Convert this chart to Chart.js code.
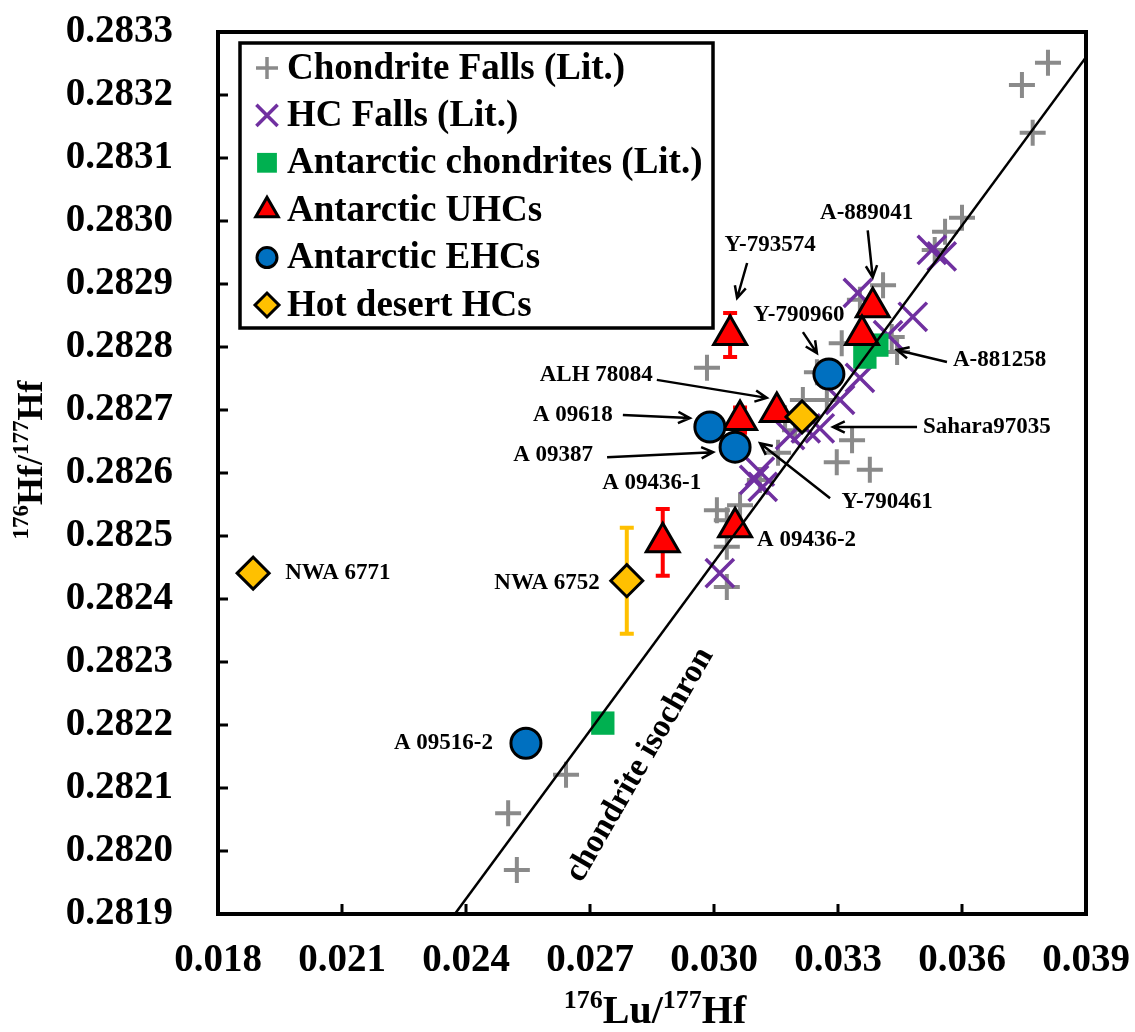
<!DOCTYPE html>
<html>
<head>
<meta charset="utf-8">
<script src="https://cdn.jsdelivr.net/npm/chart.js@4.4.0/dist/chart.umd.min.js"></script>
<style>
html, body { margin: 0; padding: 0; background: #fff; }
</style>
</head>
<body>
<canvas id="myChart" width="1135" height="1032"></canvas>
<script>
var xTicks = [0.018, 0.021, 0.024, 0.027, 0.030, 0.033, 0.036, 0.039]
var yTicks = [0.2819, 0.2820, 0.2821, 0.2822, 0.2823, 0.2824, 0.2825, 0.2826, 0.2827, 0.2828, 0.2829, 0.2830, 0.2831, 0.2832, 0.2833]

var fallsX = [0.03808, 0.03745, 0.03771, 0.03600, 0.03559, 0.03534, 0.03409, 0.03430, 0.03443, 0.03309, 0.02983, 0.03249, 0.03273, 0.03334, 0.03297, 0.03377, 0.03215, 0.03172, 0.03155, 0.03007, 0.03031, 0.03031, 0.03031, 0.02642, 0.02502, 0.02523, 0.03063, 0.03196, 0.03111, 0.03353]
var fallsY = [0.283251, 0.283216, 0.283140, 0.283005, 0.282983, 0.282954, 0.282898, 0.282816, 0.282792, 0.282806, 0.282767, 0.282760, 0.282716, 0.282652, 0.282617, 0.282605, 0.282716, 0.282687, 0.282632, 0.282541, 0.282525, 0.282483, 0.282419, 0.282121, 0.282060, 0.281970, 0.282549, 0.282668, 0.282589, 0.282875]

var hcX = [0.03527, 0.03551, 0.03348, 0.03481, 0.03421, 0.03353, 0.03305, 0.03256, 0.03222, 0.03184, 0.03111, 0.03097, 0.03118, 0.03014]
var hcY = [0.282954, 0.282944, 0.282886, 0.282848, 0.282819, 0.282751, 0.282716, 0.282671, 0.282671, 0.282660, 0.282602, 0.282589, 0.282578, 0.282441]

var antX = [0.02731, 0.03365, 0.03394]
var antY = [0.282203, 0.282784, 0.282803]

var uhcX = [0.03039, 0.03384, 0.03358, 0.03152, 0.03063, 0.03051, 0.02876]
var uhcY = [0.282819, 0.282863, 0.282819, 0.282697, 0.282684, 0.282514, 0.282490]
var uhcErr = [0.000035, 0.000012, 0.000010, 0.000008, 0.000020, 0.000014, 0.000053]

var ehcX = [0.03278, 0.02990, 0.03051, 0.02545]
var ehcY = [0.282757, 0.282673, 0.282641, 0.282171]

var desertX = [0.01885, 0.02789, 0.03213]
var desertY = [0.282441, 0.282429, 0.282689]
var desertErr = [0, 0.000084, 0]

var isoX = [0.02373, 0.039]
var isoY = [0.2819, 0.28326]

var SERIF = "'Liberation Serif', 'Times New Roman', serif"

function pts(xs, ys) {
  var out = []
  for (var i = 0; i < xs.length; i++) out.push({x: xs[i], y: ys[i]})
  return out
}

// text labels next to the samples: dataset index, point index, offsets in px
var labelDefs = [
  {text: 'Y-793574', set: 3, i: 0, dx: 40, dy: -90, align: 'center', arrow: [17, -72, 7, -37]},
  {text: 'A-889041', set: 3, i: 1, dx: -6, dy: -94, align: 'center', arrow: [-5, -77, 0, -30]},
  {text: 'Y-790960', set: 4, i: 0, dx: -30, dy: -59, align: 'center', arrow: [-26, -42, -12, -21]},
  {text: 'A-881258', set: 3, i: 2, dx: 91, dy: 25, align: 'left', arrow: [85, 27, 35, 15]},
  {text: 'ALH 78084', set: 3, i: 3, dx: -124, dy: -37, align: 'right', arrow: [-120, -32, -10, -14]},
  {text: 'A 09618', set: 4, i: 1, dx: -97, dy: -12, align: 'right', arrow: [-87, -12, -20, -9]},
  {text: 'A 09387', set: 4, i: 2, dx: -142, dy: 8, align: 'right', arrow: [-128, 10, -22, 5]},
  {text: 'A 09436-1', set: 3, i: 6, dx: -11, dy: -59, align: 'center'},
  {text: 'Y-790461', set: 4, i: 2, dx: 152, dy: 55, align: 'center', arrow: [95, 51, 25, -4]},
  {text: 'Sahara97035', set: 5, i: 2, dx: 121, dy: 10, align: 'left', arrow: [115, 10, 31, 10]},
  {text: 'A 09436-2', set: 3, i: 5, dx: 22, dy: 13, align: 'left'},
  {text: 'NWA 6771', set: 5, i: 0, dx: 32, dy: 0, align: 'left'},
  {text: 'NWA 6752', set: 5, i: 1, dx: -27, dy: 2, align: 'right'},
  {text: 'A 09516-2', set: 4, i: 3, dx: -33, dy: 0, align: 'right'}
]

function drawMark(ctx, style, x, y, r, fill, stroke, lw) {
  ctx.save()
  ctx.lineWidth = lw
  ctx.fillStyle = fill
  ctx.strokeStyle = stroke
  ctx.beginPath()
  if (style == 'cross') {
    ctx.moveTo(x - r, y); ctx.lineTo(x + r, y)
    ctx.moveTo(x, y - r); ctx.lineTo(x, y + r)
    ctx.stroke()
  } else if (style == 'crossRot') {
    var d = r * Math.SQRT1_2
    ctx.moveTo(x - d, y - d); ctx.lineTo(x + d, y + d)
    ctx.moveTo(x + d, y - d); ctx.lineTo(x - d, y + d)
    ctx.stroke()
  } else if (style == 'rect') {
    var s = r * Math.SQRT1_2
    ctx.rect(x - s, y - s, 2 * s, 2 * s)
    ctx.fill()
  } else if (style == 'triangle') {
    ctx.moveTo(x, y - r)
    ctx.lineTo(x + 0.866 * r, y + 0.5 * r)
    ctx.lineTo(x - 0.866 * r, y + 0.5 * r)
    ctx.closePath()
    ctx.fill(); ctx.stroke()
  } else if (style == 'circle') {
    ctx.arc(x, y, r, 0, Math.PI * 2)
    ctx.fill(); ctx.stroke()
  } else if (style == 'rectRot') {
    ctx.moveTo(x - r, y); ctx.lineTo(x, y - r); ctx.lineTo(x + r, y); ctx.lineTo(x, y + r)
    ctx.closePath()
    ctx.fill(); ctx.stroke()
  }
  ctx.restore()
}

function arrow(ctx, x1, y1, x2, y2) {
  var a = Math.atan2(y2 - y1, x2 - x1)
  ctx.beginPath()
  ctx.moveTo(x1, y1); ctx.lineTo(x2, y2)
  ctx.moveTo(x2 - 13 * Math.cos(a - 0.45), y2 - 13 * Math.sin(a - 0.45))
  ctx.lineTo(x2, y2)
  ctx.lineTo(x2 - 13 * Math.cos(a + 0.45), y2 - 13 * Math.sin(a + 0.45))
  ctx.stroke()
}

function supText(ctx, parts, x, y, bigSize, smallSize) {
  var big = 'bold ' + bigSize + 'px ' + SERIF, small = 'bold ' + smallSize + 'px ' + SERIF
  var w = 0
  for (var i = 0; i < parts.length; i++) {
    ctx.font = parts[i][1] ? small : big
    w += ctx.measureText(parts[i][0]).width
  }
  var cx = x - w / 2
  ctx.textAlign = 'left'
  ctx.textBaseline = 'alphabetic'
  for (var i = 0; i < parts.length; i++) {
    ctx.font = parts[i][1] ? small : big
    ctx.fillText(parts[i][0], cx, parts[i][1] ? y - bigSize * 0.38 : y)
    cx += ctx.measureText(parts[i][0]).width
  }
}

var errorBars = {
  id: 'errorBars',
  beforeDatasetsDraw: function(chart) {
    var ctx = chart.ctx
    var ys = chart.scales.y
    chart.data.datasets.forEach(function(ds, di) {
      if (!ds.errY) return
      var meta = chart.getDatasetMeta(di)
      ctx.save()
      ctx.strokeStyle = ds.errColor
      ctx.lineWidth = 4
      meta.data.forEach(function(el, i) {
        var e = ds.errY[i]
        if (!e) return
        var v = ds.data[i].y
        var t = ys.getPixelForValue(v + e), b = ys.getPixelForValue(v - e)
        ctx.beginPath()
        ctx.moveTo(el.x, t); ctx.lineTo(el.x, b)
        ctx.moveTo(el.x - 7, t); ctx.lineTo(el.x + 7, t)
        ctx.moveTo(el.x - 7, b); ctx.lineTo(el.x + 7, b)
        ctx.stroke()
      })
      ctx.restore()
    })
  }
}

var decor = {
  id: 'decor',
  afterDraw: function(chart) {
    var ctx = chart.ctx
    var a = chart.chartArea
    var xs = chart.scales.x, ys = chart.scales.y
    ctx.save()
    // frame and inward ticks
    ctx.strokeStyle = '#000'
    ctx.lineWidth = 4
    ctx.strokeRect(a.left, a.top, a.right - a.left, a.bottom - a.top)
    ctx.lineWidth = 3
    ctx.beginPath()
    xTicks.forEach(function(v) {
      var p = xs.getPixelForValue(v)
      ctx.moveTo(p, a.bottom); ctx.lineTo(p, a.bottom - 10)
    })
    yTicks.forEach(function(v) {
      var p = ys.getPixelForValue(v)
      ctx.moveTo(a.left, p); ctx.lineTo(a.left + 10, p)
    })
    ctx.stroke()

    // isochron label
    ctx.save()
    ctx.translate(xs.getPixelForValue(0.02821), ys.getPixelForValue(0.282137))
    ctx.rotate(-60 * Math.PI / 180)
    ctx.font = 'bold 33px ' + SERIF
    ctx.fillStyle = '#000'
    ctx.textAlign = 'center'
    ctx.textBaseline = 'middle'
    ctx.fillText('chondrite isochron', 0, 0)
    ctx.restore()

    // sample labels
    ctx.font = 'bold 23px ' + SERIF
    ctx.fillStyle = '#000'
    ctx.textBaseline = 'middle'
    ctx.lineWidth = 2.5
    labelDefs.forEach(function(l) {
      var el = chart.getDatasetMeta(l.set).data[l.i]
      ctx.textAlign = l.align
      ctx.fillText(l.text, el.x + l.dx, el.y + l.dy)
      if (l.arrow) arrow(ctx, el.x + l.arrow[0], el.y + l.arrow[1], el.x + l.arrow[2], el.y + l.arrow[3])
    })

    // legend
    ctx.fillStyle = '#fff'
    ctx.fillRect(240, 43, 473, 285)
    ctx.lineWidth = 3.5
    ctx.strokeStyle = '#000'
    ctx.strokeRect(240, 43, 473, 285)
    var ly = 68
    ctx.font = 'bold 37px ' + SERIF
    ctx.textAlign = 'left'
    chart.data.datasets.forEach(function(ds) {
      if (!ds.legendR) return
      drawMark(ctx, ds.pointStyle, 267, ly, ds.legendR, ds.backgroundColor, ds.borderColor, ds.pointStyle == 'cross' || ds.pointStyle == 'crossRot' ? 3.5 : 3)
      ctx.fillStyle = '#000'
      ctx.textBaseline = 'middle'
      ctx.fillText(ds.label, 287, ly + 1)
      ly += 47.4
    })

    // axis titles
    ctx.fillStyle = '#000'
    supText(ctx, [['176', true], ['Lu/', false], ['177', true], ['Hf', false]], 655, 1023, 40, 26)
    ctx.save()
    ctx.translate(42, 460)
    ctx.rotate(-Math.PI / 2)
    supText(ctx, [['176', true], ['Hf/', false], ['177', true], ['Hf', false]], 0, 0, 36, 23)
    ctx.restore()
    ctx.restore()
  }
}

new Chart("myChart", {
  type: "scatter",
  data: {
    datasets: [{
      label: "Chondrite Falls (Lit.)",
      data: pts(fallsX, fallsY),
      pointStyle: 'cross',
      pointRadius: 13,
      pointBorderWidth: 4,
      borderColor: '#8a8a8a',
      backgroundColor: '#8a8a8a',
      legendR: 11,
      order: 6
    }, {
      label: "HC Falls (Lit.)",
      data: pts(hcX, hcY),
      pointStyle: 'crossRot',
      pointRadius: 20,
      pointBorderWidth: 3.5,
      borderColor: '#7030a0',
      backgroundColor: '#7030a0',
      legendR: 15,
      order: 5
    }, {
      label: "Antarctic chondrites (Lit.)",
      data: pts(antX, antY),
      pointStyle: 'rect',
      pointRadius: 16.5,
      pointBorderWidth: 0,
      borderColor: '#00b050',
      backgroundColor: '#00b050',
      legendR: 14,
      order: 4
    }, {
      label: "Antarctic UHCs",
      data: pts(uhcX, uhcY),
      errY: uhcErr,
      errColor: '#ff0000',
      pointStyle: 'triangle',
      pointRadius: 19,
      pointBorderWidth: 3,
      borderColor: '#000',
      backgroundColor: '#ff0000',
      legendR: 13,
      order: 3
    }, {
      label: "Antarctic EHCs",
      data: pts(ehcX, ehcY),
      pointStyle: 'circle',
      pointRadius: 15,
      pointBorderWidth: 3,
      borderColor: '#000',
      backgroundColor: '#0070c0',
      legendR: 10,
      order: 2
    }, {
      label: "Hot desert HCs",
      data: pts(desertX, desertY),
      errY: desertErr,
      errColor: '#ffc000',
      pointStyle: 'rectRot',
      pointRadius: 16,
      pointBorderWidth: 3,
      borderColor: '#000',
      backgroundColor: '#ffc000',
      legendR: 12,
      order: 1
    }, {
      type: 'line',
      label: "chondrite isochron",
      data: pts(isoX, isoY),
      borderColor: '#000',
      borderWidth: 2.5,
      pointRadius: 0,
      fill: false,
      order: 0
    }]
  },
  options: {
    responsive: false,
    animation: false,
    devicePixelRatio: 1,
    layout: {padding: {top: 32, right: 49, left: 0, bottom: 0}},
    plugins: {legend: {display: false}, tooltip: {enabled: false}},
    scales: {
      x: {
        type: 'linear',
        min: 0.018,
        max: 0.039,
        afterBuildTicks: function(s) { s.ticks = xTicks.map(function(v) { return {value: v} }) },
        afterFit: function(s) { s.height = 118; s.paddingLeft = 0; s.paddingRight = 0 },
        grid: {display: false, drawTicks: false},
        border: {display: false},
        ticks: {
          padding: 24,
          maxRotation: 0,
          autoSkip: false,
          color: '#000',
          font: {family: SERIF, size: 39, weight: 'bold'},
          callback: function(v) { return Number(v).toFixed(3) }
        }
      },
      y: {
        type: 'linear',
        min: 0.2819,
        max: 0.2833,
        afterBuildTicks: function(s) { s.ticks = yTicks.map(function(v) { return {value: v} }) },
        afterFit: function(s) { s.width = 218; s.paddingTop = 0; s.paddingBottom = 0 },
        grid: {display: false, drawTicks: false},
        border: {display: false},
        ticks: {
          padding: 45,
          autoSkip: false,
          color: '#000',
          font: {family: SERIF, size: 39, weight: 'bold'},
          callback: function(v) { return Number(v).toFixed(4) }
        }
      }
    }
  },
  plugins: [errorBars, decor]
});
</script>
</body>
</html>
